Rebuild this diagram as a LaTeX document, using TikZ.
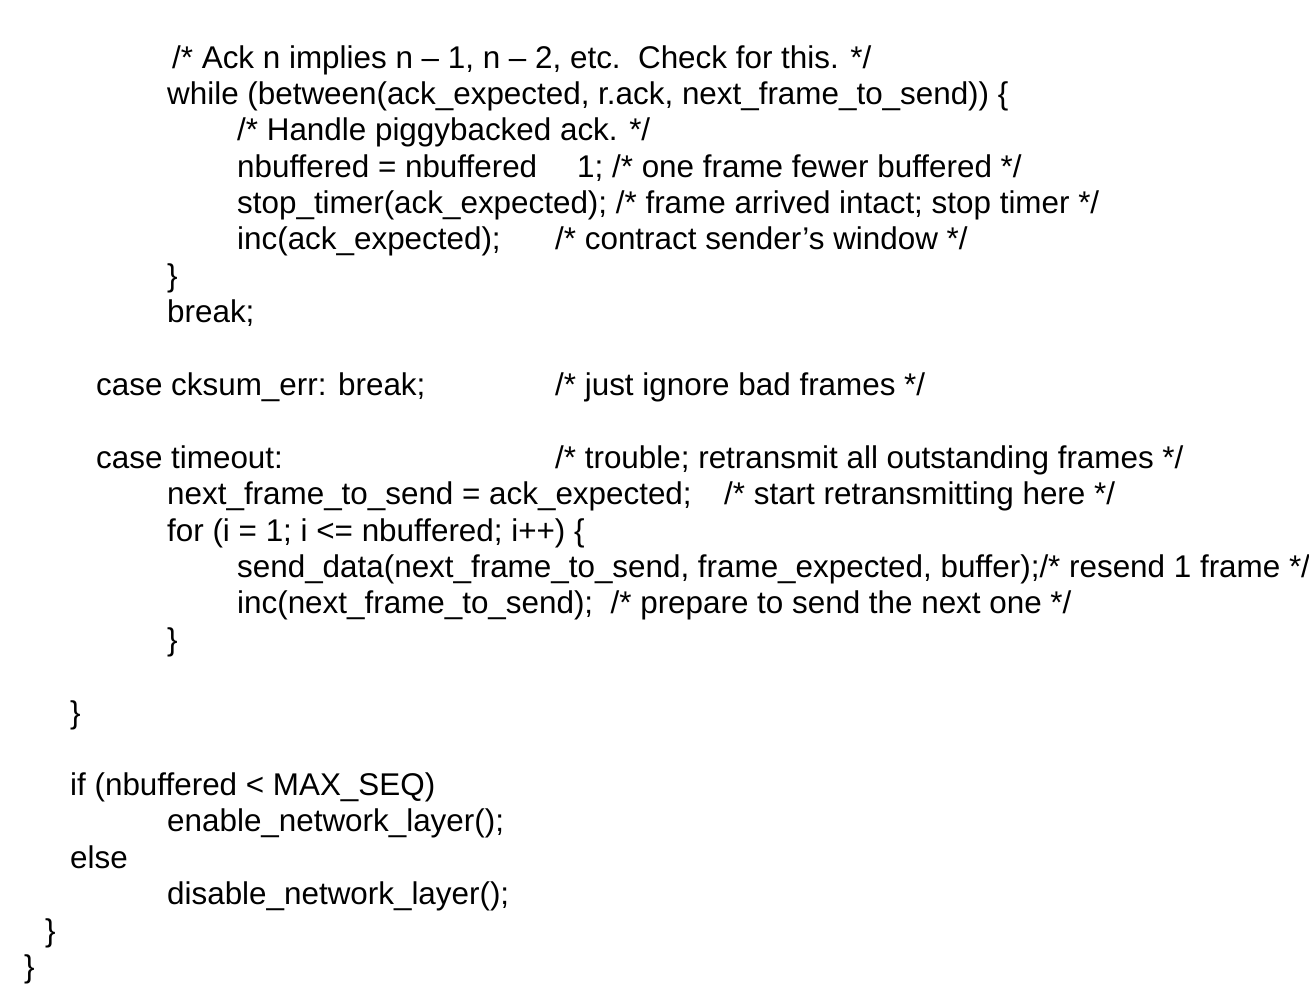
\documentclass[tikz,border=0pt]{standalone}
\usepackage{fontspec}
\setmainfont{Liberation Sans}
\begin{document}
\begin{tikzpicture}[x=1pt,y=-1pt,every node/.style={anchor=base west,inner sep=0pt,font=\fontsize{31.4}{34}\selectfont}]
\useasboundingbox (0,0) rectangle (1309,990);
\clip (0,0) rectangle (1309,990);
\node (l1) at (172,68) {/* Ack n implies n -- 1, n -- 2, etc.\ \ Check for this. */};
\node (l2) at (167,104) {while (between(ack\_expected, r.ack, next\_frame\_to\_send)) \{};
\node (l3) at (237,140) {/* Handle piggybacked ack. */};
\node (l4) at (237,177) {nbuffered = nbuffered};
\node (l4b) at (577,177) {1; /* one frame fewer buffered */};
\node (l5) at (237,213) {stop\_timer(ack\_expected); /* frame arrived intact; stop timer */};
\node (l6) at (237,249) {inc(ack\_expected);};
\node (l6b) at (555,249) {/* contract sender’s window */};
\node (l7) at (167,286) {\}};
\node (l8) at (167,322) {break;};
\node (l9) at (96,395) {case cksum\_err: break;};
\node (l9b) at (555,395) {/* just ignore bad frames */};
\node (l10) at (96,468) {case timeout:};
\node (l10b) at (555,468) {/* trouble; retransmit all outstanding frames */};
\node (l11) at (167,504) {next\_frame\_to\_send = ack\_expected;};
\node (l11b) at (724,504) {/* start retransmitting here */};
\node (l12) at (167,541) {for (i = 1; i <= nbuffered; i++) \{};
\node (l13) at (237,577) {send\_data(next\_frame\_to\_send, frame\_expected, buffer);/* resend 1 frame */};
\node (l14) at (237,613) {inc(next\_frame\_to\_send);\ \ /* prepare to send the next one */};
\node (l15) at (167,650) {\}};
\node (l16) at (70,723) {\}};
\node (l17) at (70,795) {if (nbuffered < MAX\_SEQ)};
\node (l18) at (167,831) {enable\_network\_layer();};
\node (l19) at (70,868) {else};
\node (l20) at (167,904) {disable\_network\_layer();};
\node (l21) at (45,941) {\}};
\node (l22) at (24,977) {\}};
\end{tikzpicture}
\end{document}
